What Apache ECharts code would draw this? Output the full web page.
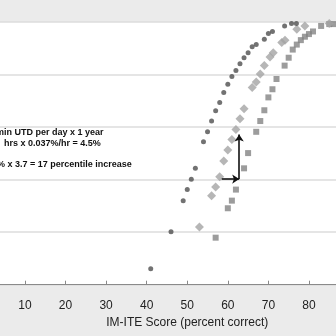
<!DOCTYPE html>
<html>
<head>
<meta charset="utf-8">
<script src="https://cdn.jsdelivr.net/npm/echarts@6/dist/echarts.min.js"></script>
<style>
html,body{margin:0;padding:0;background:#ebebeb;}
#c{width:336px;height:336px;}
</style>
</head>
<body>
<div id="c"></div>
<script>
// IM-ITE score (x) vs percentile (y)
const circleX = [41, 46, 49, 50, 51, 52, 54, 55, 56, 57, 58, 59, 60, 61, 62, 63, 64, 65, 66, 67, 69, 70, 71, 74, 75.7, 76.9];
const circleY = [6.1, 20.2, 32.0, 36.2, 40.1, 44.3, 54.4, 58.2, 62.3, 66.2, 69.4, 73.2, 76.3, 79.3, 81.5, 84.1, 86.4, 88.3, 90.6, 91.4, 93.4, 95.6, 96.4, 98.5, 99.4, 99.4];

const diamondX = [53, 56, 57, 58, 59, 60, 61, 62, 63, 64, 66, 67, 68, 69, 70.4, 71.2, 73.3, 74.1, 77, 79, 85];
const diamondY = [22.0, 33.9, 37.2, 41.1, 47.1, 51.3, 55.3, 59.1, 63.2, 67.0, 75.1, 77.2, 80.2, 83.4, 86.7, 88.3, 92.2, 93.1, 97.2, 98.5, 99.4];

const squareX = [57, 60, 61, 62, 64, 65, 67, 68, 69, 70, 71, 72, 74, 75, 76, 77, 78, 79, 80, 81, 83, 85, 86];
const squareY = [17.9, 29.1, 32.0, 36.2, 44.3, 50.1, 58.2, 62.3, 66.4, 71.3, 74.4, 78.3, 83.4, 86.4, 89.5, 91.4, 93.1, 94.4, 95.4, 96.4, 98.5, 99.2, 99.2];

const xTicks = [0, 10, 20, 30, 40, 50, 60, 70, 80, 90, 100];
const xName = 'IM-ITE Score (percent correct)';

// arrows: horizontal (score gain) and vertical (percentile gain)
const arrowH = [[58.5, 40.2], [62.8, 40.2]];
const arrowV = [[62.8, 40.2], [62.8, 57.2]];

const noteLines = [
  'min UTD per day x 1 year',
  'hrs x 0.037%/hr = 4.5%',
  '% x 3.7 = 17 percentile increase'
];

const zip = (xs, ys) => xs.map((x, i) => [x, ys[i]]);

const chart = echarts.init(document.getElementById('c'), null, {renderer: 'canvas'});
chart.setOption({
  backgroundColor: '#ebebeb',
  animation: false,
  grid: {
    left: -15.6, top: 22, width: 405.7, height: 262.7,
    containLabel: false, outerBoundsMode: 'none',
    show: true, backgroundColor: '#ffffff', borderWidth: 0
  },
  xAxis: {
    type: 'value', min: xTicks[0], max: xTicks[xTicks.length - 1], interval: 10,
    offset: 7,
    name: xName, nameLocation: 'middle', nameGap: 24,
    nameTextStyle: {fontFamily: 'Liberation Sans, Arial', fontSize: 12, color: '#222'},
    axisLine: {show: true, lineStyle: {color: '#8a8a8a', width: 1}},
    axisTick: {show: true, inside: true, length: 4, lineStyle: {color: '#8a8a8a'}},
    axisLabel: {margin: 8, fontFamily: 'Liberation Sans, Arial', fontSize: 12, color: '#222', hideOverlap: false},
    splitLine: {show: false}
  },
  yAxis: {
    type: 'value', min: 0, max: 100, interval: 20,
    axisLine: {show: false}, axisTick: {show: false}, axisLabel: {show: false},
    splitLine: {show: true, lineStyle: {color: '#dcdcdc', width: 1.5}}
  },
  series: [
    {
      type: 'scatter', data: zip(squareX, squareY), symbol: 'rect', symbolSize: 6,
      itemStyle: {color: '#838383'}
    },
    {
      type: 'scatter', data: zip(diamondX, diamondY), symbol: 'diamond', symbolSize: 9,
      itemStyle: {color: '#a4a4a4'}
    },
    {
      type: 'scatter', data: zip(circleX, circleY), symbol: 'circle', symbolSize: 5,
      itemStyle: {color: '#4f4f4f'},
      markLine: {
        silent: true, symbol: ['none', 'arrow'], symbolSize: [7, 7],
        label: {show: false},
        lineStyle: {color: '#111', width: 1.6, type: 'solid'},
        data: [
          [{coord: arrowH[0]}, {coord: arrowH[1]}],
          [{coord: arrowV[0]}, {coord: arrowV[1]}]
        ]
      }
    }
  ],
  graphic: [
    {type: 'text', left: -4, top: 128, style: {text: noteLines[0], font: 'bold 9px "Liberation Sans", Arial', fill: '#111'}},
    {type: 'text', left: 4, top: 139, style: {text: noteLines[1], font: 'bold 9px "Liberation Sans", Arial', fill: '#111'}},
    {type: 'text', left: -3, top: 160, style: {text: noteLines[2], font: 'bold 9px "Liberation Sans", Arial', fill: '#111'}}
  ]
});
</script>
</body>
</html>
